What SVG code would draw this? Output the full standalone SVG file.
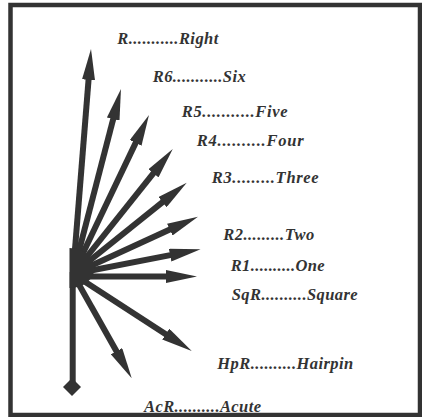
<svg xmlns="http://www.w3.org/2000/svg" width="422" height="417" viewBox="0 0 422 417">
<style>
.frame{fill:#fff;stroke:#333;stroke-width:4.5}
.ray{stroke:#333;stroke-width:6;fill:none;marker-end:url(#ah)}
.stem{stroke:#333;stroke-width:6;fill:none}
.lbl{font-family:"Liberation Serif","Times New Roman",serif;font-weight:bold;font-style:italic;font-size:16.5px;fill:#333}
</style>
<defs>
<marker id="ah" markerUnits="userSpaceOnUse" viewBox="0 0 31 13" refX="12" refY="6.5" markerWidth="31" markerHeight="13" orient="auto">
<path d="M0,0 L31,6.5 L0,13 Z" fill="#333"/>
</marker>
</defs>
<rect class="frame" x="10.5" y="5" width="409.5" height="410"/>
<g id="connectors">
<line class="stem" x1="72.7" y1="272" x2="72.7" y2="382"/>
<line class="ray" x1="73" y1="274" x2="89.5" y2="67.9"/>
<line class="ray" x1="73" y1="274" x2="116.2" y2="107.4"/>
<line class="ray" x1="73" y1="274" x2="140.8" y2="132.1"/>
<line class="ray" x1="73" y1="274" x2="160.9" y2="163.9"/>
<line class="ray" x1="73" y1="274" x2="171.9" y2="194.6"/>
<line class="ray" x1="73" y1="274" x2="180.7" y2="224.6"/>
<line class="ray" x1="73" y1="274" x2="181.9" y2="252.9"/>
<line class="ray" x1="73" y1="276.5" x2="178" y2="276.5"/>
<line class="ray" x1="73" y1="274" x2="175.8" y2="340.7"/>
<line class="ray" x1="73" y1="274" x2="122.4" y2="361.7"/>
</g>
<g id="hub">
<path d="M69.5,248 A 25 20 0 0 1 69.5,288 Z" fill="#333"/>
</g>
<g id="base">
<path d="M72,378 L81,387 L72,396 L63,387 Z" fill="#333"/>
</g>
<g id="n-right"><text class="lbl" x="117.3" y="44" textLength="101" lengthAdjust="spacing">R...........Right</text></g>
<g id="n-six"><text class="lbl" x="152.7" y="81.7" textLength="93" lengthAdjust="spacing">R6...........Six</text></g>
<g id="n-five"><text class="lbl" x="181.7" y="117.3" textLength="106" lengthAdjust="spacing">R5...........Five</text></g>
<g id="n-four"><text class="lbl" x="196.7" y="146" textLength="107" lengthAdjust="spacing">R4..........Four</text></g>
<g id="n-three"><text class="lbl" x="211.7" y="182.7" textLength="107" lengthAdjust="spacing">R3.........Three</text></g>
<g id="n-two"><text class="lbl" x="223.3" y="240" textLength="91" lengthAdjust="spacing">R2.........Two</text></g>
<g id="n-one"><text class="lbl" x="230.7" y="270.7" textLength="94" lengthAdjust="spacing">R1..........One</text></g>
<g id="n-square"><text class="lbl" x="231.7" y="299.5" textLength="126" lengthAdjust="spacing">SqR..........Square</text></g>
<g id="n-hairpin"><text class="lbl" x="217.3" y="369.3" textLength="136" lengthAdjust="spacing">HpR..........Hairpin</text></g>
<g id="n-acute"><text class="lbl" x="144" y="411.5" textLength="117" lengthAdjust="spacing">AcR..........Acute</text></g>
</svg>
